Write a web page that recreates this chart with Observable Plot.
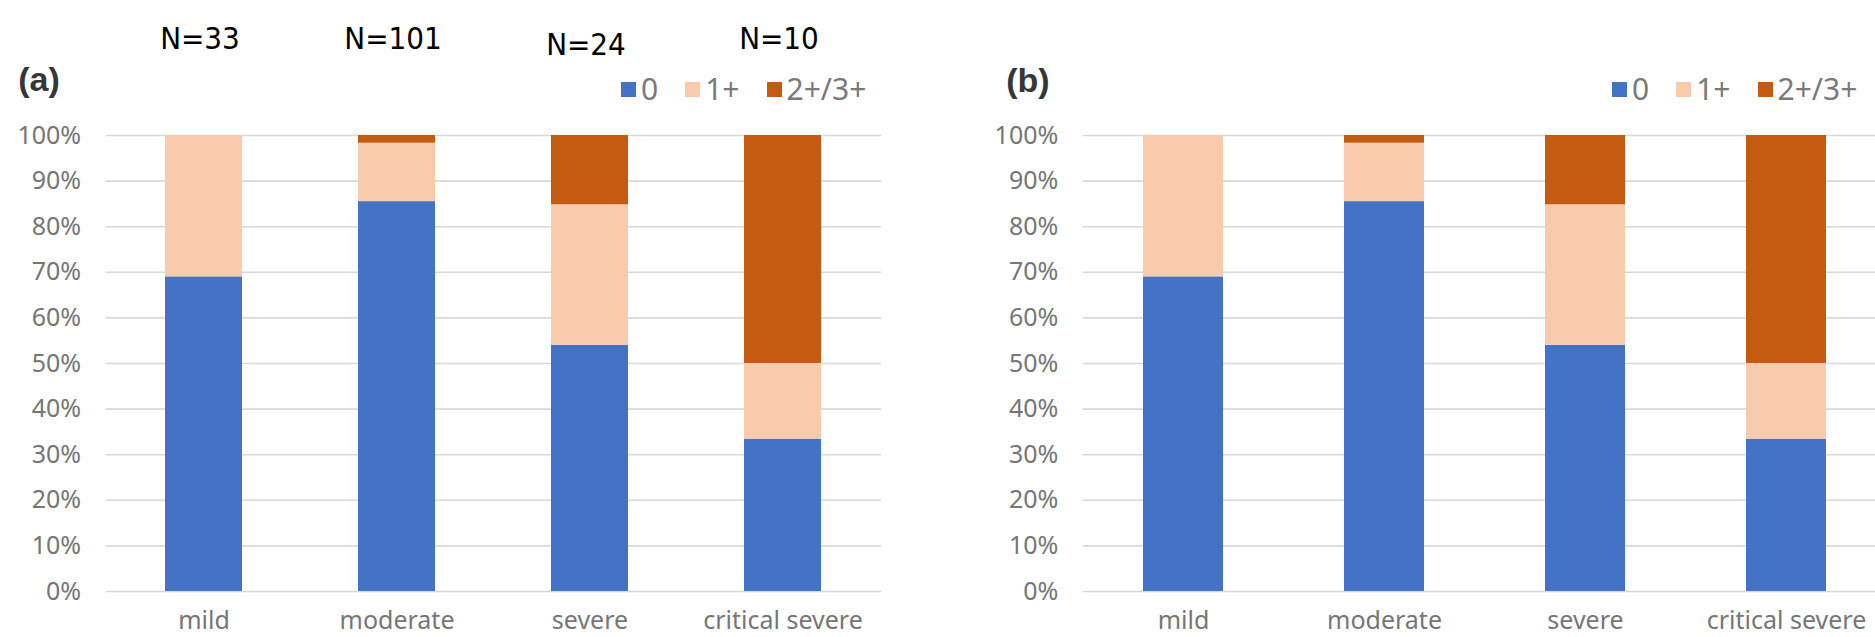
<!DOCTYPE html>
<html>
<head>
<meta charset="utf-8">
<script src="https://cdn.jsdelivr.net/npm/d3@7"></script>
<script src="https://cdn.jsdelivr.net/npm/@observablehq/plot@0.6"></script>
<style>
html, body { margin: 0; padding: 0; background: #fff; overflow: hidden; width: 1875px; height: 637px; }
#root { position: relative; width: 1875px; height: 637px; overflow: hidden; }
.panel { position: absolute; top: 0; }
.tag { position: absolute; font-family: "Liberation Sans", Arial, sans-serif; font-weight: bold; font-size: 34px; color: #363636; line-height: 1; }
.legend { position: absolute; top: 74px; height: 30px; display: flex; align-items: center; font-family: "Noto Sans", sans-serif; font-size: 30px; line-height: 30px; color: #7a7a7a; }
.legend .sw { width: 15px; height: 15px; margin-right: 5px; }
.legend .item { display: flex; align-items: center; margin-right: 27px; }
</style>
</head>
<body>
<div id="root"></div>
<script>
// ---- data ----
const categories = ["mild", "moderate", "severe", "critical severe"];
const groups = ["0", "1+", "2+/3+"];
const groupColors = ["#4472C4", "#F8CBAD", "#C55A11"];
const yTicks = [0, 10, 20, 30, 40, 50, 60, 70, 80, 90, 100];
const nCounts = [33, 101, 24, 10];

// panel (a) percentages
const a0 = [69, 85.5, 54, 33.4];
const a1 = [31, 12.8, 30.8, 16.6];
const a2 = [0, 1.7, 15.2, 50];

// panel (b) percentages
const b0 = [69, 85.5, 54, 33.4];
const b1 = [31, 12.8, 30.8, 16.6];
const b2 = [0, 1.7, 15.2, 50];

function rows(s0, s1, s2) {
  const series = [s0, s1, s2];
  return categories.flatMap((cat, i) => groups.map((g, k) => ({cat, g, v: series[k][i]})));
}

const root = document.getElementById("root");

function makePanel({data, left, width, marginLeft, marginRight, withN}) {
  const marks = [
    Plot.gridY(yTicks, {stroke: "#d9d9d9", strokeOpacity: 1, strokeWidth: 1.6}),
    Plot.barY(data, {x: "cat", y: "v", fill: "g"}),
    Plot.axisY(yTicks, {tickSize: 0, tickPadding: 25, tickFormat: d => d + "%", fill: "#767676", label: null}),
    Plot.axisX({tickSize: 0, tickPadding: 20, fill: "#767676", label: null})
  ];
  if (withN) {
    const nData = categories.map((cat, i) => ({cat, n: nCounts[i]}));
    const common = {x: "cat", text: d => "N=" + d.n, frameAnchor: "top", dx: -4, fontSize: 31,
      fontFamily: "DejaVu Sans Condensed, DejaVu Sans, sans-serif", fill: "#000"};
    marks.push(Plot.text(nData, {...common, filter: d => d.n !== 24, dy: -109}));
    marks.push(Plot.text(nData, {...common, filter: d => d.n === 24, dy: -103}));
  }
  const chart = Plot.plot({
    width, height: 637,
    marginLeft, marginRight, marginTop: 135, marginBottom: 46,
    style: {fontFamily: "'Noto Sans', sans-serif", fontSize: "25px", background: "transparent", overflow: "visible"},
    x: {domain: categories, paddingInner: 0.6, paddingOuter: 0.3, axis: null},
    y: {domain: [0, 100], axis: null},
    color: {domain: groups, range: groupColors},
    marks
  });
  chart.classList.add("panel");
  chart.style.left = left + "px";
  root.appendChild(chart);
}

makePanel({data: rows(a0, a1, a2), left: 0, width: 940, marginLeft: 105.6, marginRight: 59, withN: true});
makePanel({data: rows(b0, b1, b2), left: 940, width: 960, marginLeft: 142.8, marginRight: 13.2, withN: false});

function addTag(text, x, baseline) {
  const d = document.createElement("div");
  d.className = "tag";
  d.style.left = (x - 30) + "px";
  d.style.width = "60px";
  d.style.textAlign = "center";
  d.style.top = (baseline - 31) + "px";
  d.textContent = text;
  root.appendChild(d);
}
addTag("(a)", 39, 93);
addTag("(b)", 1028, 94);

function addLegend(left) {
  const lg = document.createElement("div");
  lg.className = "legend";
  lg.style.left = left + "px";
  groups.forEach((g, i) => {
    const it = document.createElement("div");
    it.className = "item";
    const sw = document.createElement("div");
    sw.className = "sw";
    sw.style.background = groupColors[i];
    const t = document.createElement("span");
    t.textContent = g;
    it.appendChild(sw);
    it.appendChild(t);
    lg.appendChild(it);
  });
  root.appendChild(lg);
}
addLegend(621);
addLegend(1612);
</script>
</body>
</html>
